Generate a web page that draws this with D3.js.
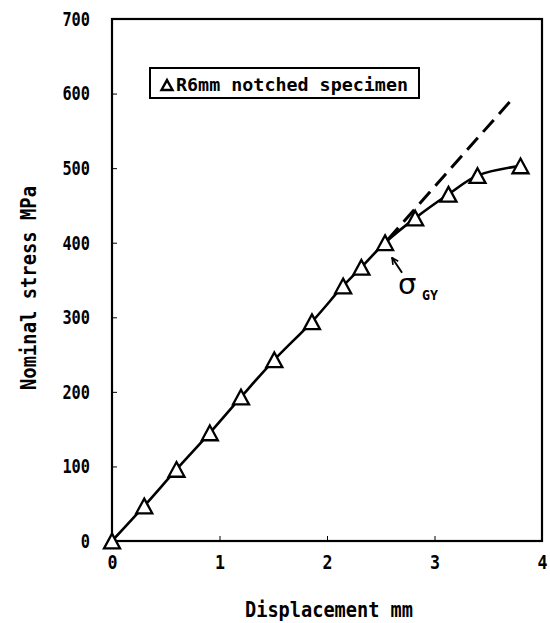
<!DOCTYPE html>
<html>
<head>
<meta charset="utf-8">
<script src="https://cdn.jsdelivr.net/npm/d3@7"></script>
<style>
  body { margin: 0; background: #fff; }
  svg { display: block; }
  text { font-family: "DejaVu Sans Mono", monospace; fill: #000; font-weight: bold; }
</style>
</head>
<body>
<div id="chart"></div>
<script>
// measured points, R6mm notched specimen
const displacement = [0, 0.30, 0.60, 0.91, 1.20, 1.51, 1.86, 2.15, 2.32, 2.54, 2.82, 3.13, 3.40, 3.80];
const stress       = [0, 47,   96,   145,  193,  243,  294,  342,  367,  400,  433,  465,  490,  503];
// linear extension (dashed)
const elasticX = [2.54, 3.70];
const elasticY = [400, 589];
const xTicks = [0, 1, 2, 3, 4];
const yTicks = [0, 100, 200, 300, 400, 500, 600, 700];
const legendLabel = "R6mm notched specimen";
const xTitle = "Displacement mm";
const yTitle = "Nominal stress MPa";

const width = 550, height = 623;
const margin = { top: 19, right: 8, bottom: 82, left: 112 };
const iw = width - margin.left - margin.right;
const ih = height - margin.top - margin.bottom;

const svg = d3.select("#chart").append("svg")
  .attr("width", width)
  .attr("height", height);

const g = svg.append("g").attr("transform", `translate(${margin.left},${margin.top})`);

const x = d3.scaleLinear().domain([0, 4]).range([0, iw]);
const y = d3.scaleLinear().domain([0, 700]).range([ih, 0]);

// inward ticks
g.append("g")
  .attr("transform", `translate(0,${ih})`)
  .call(d3.axisBottom(x).tickValues(xTicks).tickSize(-5).tickPadding(14).tickFormat(d3.format("d")))
  .call(a => a.select(".domain").remove())
  .call(a => a.selectAll("line").attr("stroke-width", 1))
  .call(a => a.selectAll("text")
    .attr("font-size", 20)
    .attr("dy", "0.71em")
    .attr("textLength", d => String(d).length * 10)
    .attr("lengthAdjust", "spacingAndGlyphs"));

g.append("g")
  .call(d3.axisLeft(y).tickValues(yTicks).tickSize(-5).tickPadding(22).tickFormat(d3.format("d")))
  .call(a => a.select(".domain").remove())
  .call(a => a.selectAll("line").attr("stroke-width", 1))
  .call(a => a.selectAll("text")
    .attr("font-size", 20)
    .attr("textLength", d => String(d).length * 9.2)
    .attr("lengthAdjust", "spacingAndGlyphs"));

// frame
g.append("rect")
  .attr("width", iw).attr("height", ih)
  .attr("fill", "none").attr("stroke", "#000").attr("stroke-width", 2.2);

const pts = displacement.map((d, i) => [d, stress[i]]);
const line = d3.line().x(d => x(d[0])).y(d => y(d[1])).curve(d3.curveCatmullRom.alpha(0.5));

g.append("path")
  .attr("d", d3.line().x(d => x(d[0])).y(d => y(d[1]))(elasticX.map((d, i) => [d, elasticY[i]])))
  .attr("fill", "none").attr("stroke", "#000").attr("stroke-width", 3)
  .attr("stroke-dasharray", "16,8").attr("stroke-dashoffset", -4);

g.append("path")
  .attr("d", line(pts))
  .attr("fill", "none").attr("stroke", "#000").attr("stroke-width", 2.6);

const tri = (w, r) => {
  const h = w * r;
  return `M0,${-h / 2}L${w / 2},${h / 2}L${-w / 2},${h / 2}Z`;
};

g.selectAll(".pt")
  .data(pts)
  .join("path")
  .attr("class", "pt")
  .attr("transform", d => `translate(${x(d[0])},${y(d[1])})`)
  .attr("d", tri(16, 0.92))
  .attr("fill", "#fff").attr("stroke", "#000").attr("stroke-width", 2.3)
  .attr("stroke-linejoin", "miter");

// legend
const lg = g.append("g").attr("transform", "translate(38,49)");
lg.append("rect").attr("width", 269).attr("height", 30)
  .attr("fill", "#fff").attr("stroke", "#000").attr("stroke-width", 2);
lg.append("path").attr("transform", "translate(17,17)").attr("d", tri(11, 0.9))
  .attr("fill", "#fff").attr("stroke", "#000").attr("stroke-width", 2.4);
lg.append("text").attr("x", 26).attr("y", 23)
  .attr("font-size", 18)
  .attr("textLength", 232).attr("lengthAdjust", "spacingAndGlyphs")
  .text(legendLabel);

// sigma_GY annotation
const gx = x(2.54), gy = y(400);
svg.append("defs").append("marker")
  .attr("id", "ah").attr("viewBox", "0 0 10 10").attr("refX", 9).attr("refY", 5)
  .attr("markerWidth", 8).attr("markerHeight", 8).attr("orient", "auto-start-reverse")
  .attr("markerUnits", "userSpaceOnUse")
  .append("path").attr("d", "M1,1L9,5L1,9").attr("fill", "none").attr("stroke", "#000").attr("stroke-width", 2);
g.append("line")
  .attr("x1", gx + 17).attr("y1", gy + 30)
  .attr("x2", gx + 7).attr("y2", gy + 15)
  .attr("stroke", "#000").attr("stroke-width", 2).attr("marker-end", "url(#ah)");
g.append("text").attr("x", gx + 13).attr("y", gy + 51)
  .style("font-family", "'DejaVu Sans'").style("font-weight", "normal")
  .attr("font-size", 29).text("σ");
g.append("text").attr("x", gx + 37).attr("y", gy + 57)
  .attr("font-size", 14).attr("textLength", 16).attr("lengthAdjust", "spacingAndGlyphs").text("GY");

// axis titles
svg.append("text")
  .attr("x", 329).attr("y", 617)
  .attr("text-anchor", "middle")
  .attr("font-size", 21)
  .attr("textLength", 168).attr("lengthAdjust", "spacingAndGlyphs")
  .text(xTitle);

svg.append("text")
  .attr("transform", "translate(36,288) rotate(-90)")
  .attr("text-anchor", "middle")
  .attr("font-size", 21)
  .attr("textLength", 204).attr("lengthAdjust", "spacingAndGlyphs")
  .text(yTitle);
</script>
</body>
</html>
